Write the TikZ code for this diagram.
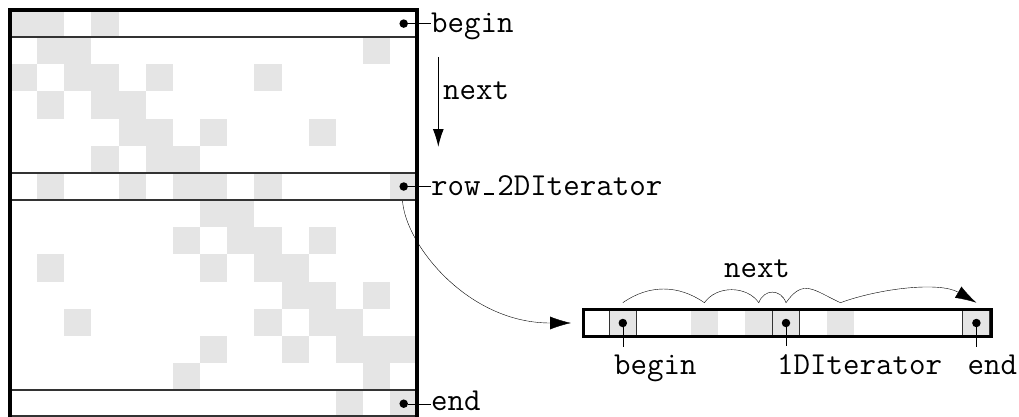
\documentclass[tikz,border=0pt]{standalone}
\usetikzlibrary{arrows.meta}
\pgfdeclarelayer{bottom}
\pgfdeclarelayer{background}
\pgfsetlayers{bottom,background,main}
\definecolor{cellgray}{HTML}{E5E5E5}
\newcommand{\myusc}{\makebox[0.525em]{\rule{0.3em}{0.065em}}}
\begin{document}
\begin{tikzpicture}[x=1pt,y=-1pt,line width=1.5pt,
  lbl/.style={inner sep=0pt, font=\fontsize{32}{38}\selectfont\ttfamily},
  dot/.style={circle, fill=black, inner sep=0pt, minimum size=8.5pt},
  frame/.style={draw=black, line width=4.2pt},
  rowline/.style={draw=black!80, line width=1.4pt},
  arr/.style={-{Latex[length=21pt,width=13pt]}},
  gcell/.style={fill=cellgray},
  itcell/.style={draw=black!80, line width=1.3pt}]
\useasboundingbox (0,0) rectangle (1019,417);
\def\cw{27.15}
\def\sw{27.2}
% ---- gray cells (background layer)
\begin{pgfonlayer}{background}
\foreach \r/\c in {0/0,0/1,0/3, 1/1,1/2,1/13, 2/0,2/2,2/3,2/5,2/9, 3/1,3/3,3/4,
  4/4,4/5,4/7,4/11, 5/3,5/5,5/6, 6/1,6/4,6/6,6/7,6/9,6/14, 7/7,7/8,
  8/6,8/8,8/9,8/11, 9/1,9/7,9/9,9/10, 10/10,10/11,10/13, 11/2,11/9,11/11,11/12,
  12/7,12/10,12/12,12/13,12/14, 13/6,13/13, 14/12,14/14}
  \fill[gcell] ({10+\c*\cw},{10+\r*\cw}) rectangle ++(\cw,\cw);
\foreach \c in {1,4,6,7,9,14}
  \fill[gcell] ({582+\c*\sw},309.4) rectangle ++(\sw,\sw);
\end{pgfonlayer}
% ---- matrix
\foreach \r in {1,6,7,14}
  \draw[rowline] (10,{10+\r*\cw}) -- (417.25,{10+\r*\cw});
\draw[rowline] (10,416) -- (417.25,416);
\draw[frame] (10,10) rectangle (417.25,420);
\node[dot] (mb) at (403.7,23.6) {};
\node[dot] (mr) at (403.7,186.5) {};
\node[dot] (me) at (403.7,403.7) {};
\node[lbl, anchor=base west] (lb) at (431,32.5) {begin};
\node[lbl, anchor=base west] (lr) at (431,195) {row\myusc 2DIterator};
\node[lbl, anchor=base west] (le) at (431,410.5) {end};
\draw (mb) -- (mb -| lb.west);
\draw (mr) -- (mr -| lr.west);
\draw (me) -- (me -| le.west);
% ---- vertical next
\coordinate (n1) at (438.3,57);
\coordinate (n2) at (438.3,147);
\draw[line width=1.2pt, -{Latex[length=18pt,width=11pt]}] (n1) -- (n2);
\node[lbl, anchor=base west] (nl) at (443,100) {next};
% ---- 1D strip
\foreach \c in {1,7,14}
  \draw[itcell] ({582+\c*\sw},309.4) rectangle ++(\sw,\sw);
\node[draw, line width=3pt, minimum width=408pt, minimum height=27.2pt,
  inner sep=0pt, anchor=west] (strip) at (582,323) {};
\node[dot] (sd1) at (622.8,323) {};
\node[dot] (sd2) at (786,323) {};
\node[dot] (sd3) at (976.4,323) {};
\node[lbl, anchor=base west] (sb) at (614,374) {begin};
\node[lbl, anchor=base west] (si) at (777,374) {1DIterator};
\node[lbl, anchor=base west] (se) at (967.5,374) {end};
\draw[shorten >=7.5pt] (sd1) -- (sd1 |- sb.north);
\draw[shorten >=7.5pt] (sd2) -- (sd2 |- si.north);
\draw[shorten >=7.5pt] (sd3) -- (sd3 |- se.north);
% ---- iteration arcs
\coordinate (a1) at (622.8,302.7);
\coordinate (a2) at (704.4,302.7);
\coordinate (a3) at (758.8,302.7);
\coordinate (a4) at (786,302.7);
\coordinate (a5) at (840.4,302.7);
\coordinate (a6) at (976.4,302.7);
\draw[arr] (a1) to[out=35,in=145] (a2) to[out=55,in=125] (a3)
  to[out=70,in=110,distance=15pt] (a4) to[out=55,in=155,distance=30pt] (a5)
  to[out=20,in=150,looseness=0.8] (a6);
\node[lbl, anchor=base] (nt) at (757,277) {next};
% ---- big curve
\coordinate (tipc) at ([xshift=-11pt]strip.west);
\begin{pgfonlayer}{bottom}
\draw[arr] (mr) .. controls +(-8,45) and +(-110,0) .. (tipc);
\end{pgfonlayer}
\end{tikzpicture}
\end{document}
